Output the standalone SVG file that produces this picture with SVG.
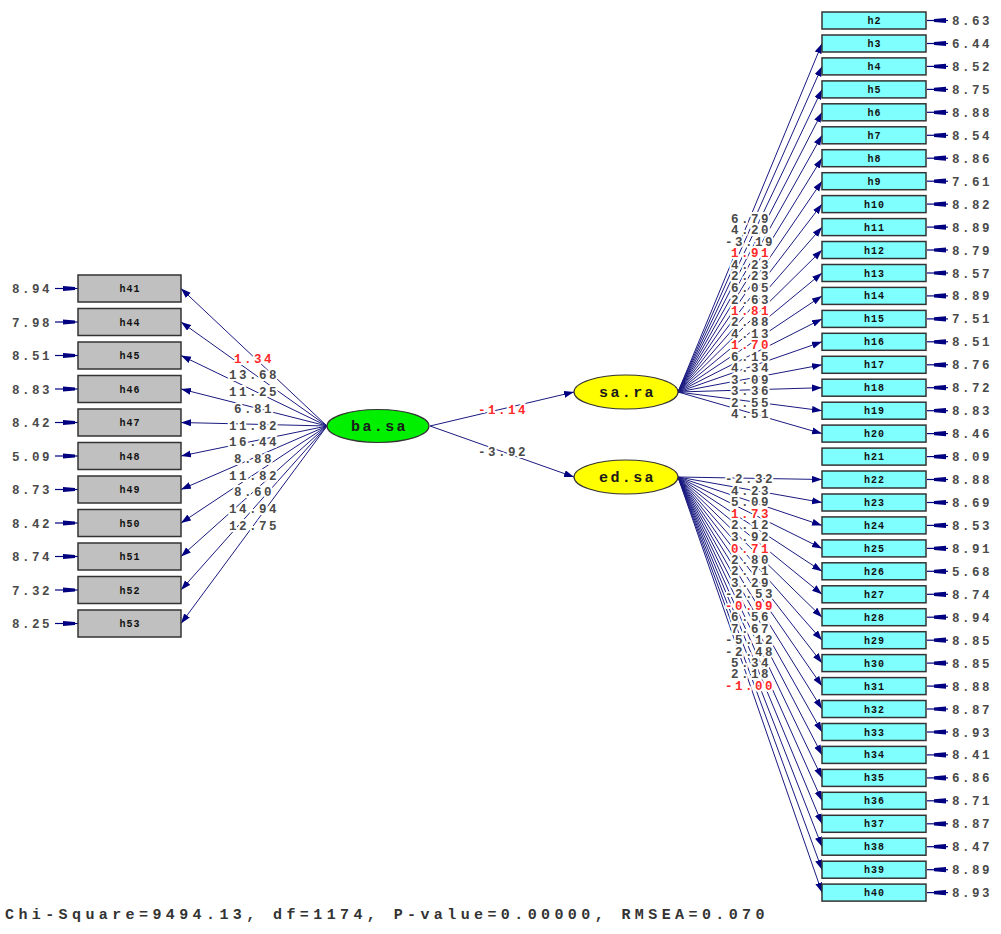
<svg xmlns="http://www.w3.org/2000/svg" xmlns:xlink="http://www.w3.org/1999/xlink" width="1001" height="934" viewBox="0 0 1001 934">
<defs>
<marker id="ah" markerUnits="userSpaceOnUse" markerWidth="11" markerHeight="8" refX="10" refY="3.5" orient="auto">
<path d="M0,0 L10,3.5 L0,7 Z" fill="#000080"/>
</marker>
<g id="errR"><line x1="927" y1="0" x2="948" y2="0" stroke="#000080" stroke-width="1.2"/><path d="M934,-1.6 L946,-2.6 L946,2.6 L934,1.6 Z" fill="#000080"/></g>
<g id="errL"><line x1="55" y1="0" x2="78" y2="0" stroke="#000080" stroke-width="1.2"/><path d="M63,-2.6 L75,-1.6 L75,1.6 L63,2.6 Z" fill="#000080"/></g>
</defs>
<style>
.c line{stroke:#1a1a80;stroke-width:1;fill:none}
.c .a{marker-end:url(#ah)}
.bR{fill:#80ffff;stroke:#333;stroke-width:1.5}
.bL{fill:#c0c0c0;stroke:#333;stroke-width:1.5}
.bt{font-family:"Liberation Mono",monospace;font-size:10px;font-weight:bold;letter-spacing:1px;text-anchor:middle;fill:#111}
.n{font-family:"Liberation Mono",monospace;font-size:12.5px;font-weight:bold;letter-spacing:2.5px;fill:#4a4a4a}
.m{text-anchor:middle;paint-order:stroke;stroke:#fff;stroke-width:4px;stroke-linejoin:round}
.r{fill:#ff2a2a}
.lv{font-family:"Liberation Mono",monospace;font-size:15px;font-weight:bold;letter-spacing:2.4px;text-anchor:middle;fill:#1a1a1a}
.ft{font-family:"Liberation Mono",monospace;font-size:15px;font-weight:bold;letter-spacing:4.4px;fill:#333}
</style>
<rect width="1001" height="934" fill="#fff"/>

<g id="connectors" class="c">
<line class="a" x1="430" y1="426" x2="574" y2="392"/>
<line class="a" x1="430" y1="426" x2="574" y2="477"/>
<line class="a" x1="327" y1="426" x2="181" y2="288.5"/>
<line class="a" x1="327" y1="426" x2="181" y2="322"/>
<line class="a" x1="327" y1="426" x2="181" y2="355.5"/>
<line class="a" x1="327" y1="426" x2="181" y2="389"/>
<line class="a" x1="327" y1="426" x2="181" y2="422.5"/>
<line class="a" x1="327" y1="426" x2="181" y2="456"/>
<line class="a" x1="327" y1="426" x2="181" y2="489.5"/>
<line class="a" x1="327" y1="426" x2="181" y2="523"/>
<line class="a" x1="327" y1="426" x2="181" y2="556.5"/>
<line class="a" x1="327" y1="426" x2="181" y2="590"/>
<line class="a" x1="327" y1="426" x2="181" y2="623.5"/>
<line class="a" x1="678" y1="392" x2="822" y2="43.5"/>
<line class="a" x1="678" y1="392" x2="822" y2="66.4"/>
<line class="a" x1="678" y1="392" x2="822" y2="89.4"/>
<line class="a" x1="678" y1="392" x2="822" y2="112.3"/>
<line class="a" x1="678" y1="392" x2="822" y2="135.3"/>
<line class="a" x1="678" y1="392" x2="822" y2="158.2"/>
<line class="a" x1="678" y1="392" x2="822" y2="181.2"/>
<line class="a" x1="678" y1="392" x2="822" y2="204.1"/>
<line class="a" x1="678" y1="392" x2="822" y2="227.1"/>
<line class="a" x1="678" y1="392" x2="822" y2="250"/>
<line class="a" x1="678" y1="392" x2="822" y2="273"/>
<line class="a" x1="678" y1="392" x2="822" y2="295.9"/>
<line class="a" x1="678" y1="392" x2="822" y2="318.9"/>
<line class="a" x1="678" y1="392" x2="822" y2="341.8"/>
<line class="a" x1="678" y1="392" x2="822" y2="364.8"/>
<line class="a" x1="678" y1="392" x2="822" y2="387.7"/>
<line class="a" x1="678" y1="392" x2="822" y2="410.7"/>
<line class="a" x1="678" y1="392" x2="822" y2="433.6"/>
<line class="a" x1="678" y1="477" x2="822" y2="479.5"/>
<line class="a" x1="678" y1="477" x2="822" y2="502.5"/>
<line class="a" x1="678" y1="477" x2="822" y2="525.4"/>
<line class="a" x1="678" y1="477" x2="822" y2="548.4"/>
<line class="a" x1="678" y1="477" x2="822" y2="571.3"/>
<line class="a" x1="678" y1="477" x2="822" y2="594.3"/>
<line class="a" x1="678" y1="477" x2="822" y2="617.2"/>
<line class="a" x1="678" y1="477" x2="822" y2="640.2"/>
<line class="a" x1="678" y1="477" x2="822" y2="663.1"/>
<line class="a" x1="678" y1="477" x2="822" y2="686.1"/>
<line class="a" x1="678" y1="477" x2="822" y2="709"/>
<line class="a" x1="678" y1="477" x2="822" y2="732"/>
<line class="a" x1="678" y1="477" x2="822" y2="754.9"/>
<line class="a" x1="678" y1="477" x2="822" y2="777.9"/>
<line class="a" x1="678" y1="477" x2="822" y2="800.8"/>
<line class="a" x1="678" y1="477" x2="822" y2="823.8"/>
<line class="a" x1="678" y1="477" x2="822" y2="846.7"/>
<line class="a" x1="678" y1="477" x2="822" y2="869.7"/>
<line class="a" x1="678" y1="477" x2="822" y2="892.6"/>
</g>

<g id="error-arrows">
<use xlink:href="#errL" y="288.5"/><use xlink:href="#errL" y="322"/><use xlink:href="#errL" y="355.5"/><use xlink:href="#errL" y="389"/><use xlink:href="#errL" y="422.5"/><use xlink:href="#errL" y="456"/><use xlink:href="#errL" y="489.5"/><use xlink:href="#errL" y="523"/><use xlink:href="#errL" y="556.5"/><use xlink:href="#errL" y="590"/><use xlink:href="#errL" y="623.5"/>
<use xlink:href="#errR" y="20.5"/><use xlink:href="#errR" y="43.5"/><use xlink:href="#errR" y="66.4"/><use xlink:href="#errR" y="89.4"/><use xlink:href="#errR" y="112.3"/><use xlink:href="#errR" y="135.3"/><use xlink:href="#errR" y="158.2"/><use xlink:href="#errR" y="181.2"/><use xlink:href="#errR" y="204.1"/><use xlink:href="#errR" y="227.1"/><use xlink:href="#errR" y="250"/><use xlink:href="#errR" y="273"/><use xlink:href="#errR" y="295.9"/><use xlink:href="#errR" y="318.9"/><use xlink:href="#errR" y="341.8"/><use xlink:href="#errR" y="364.8"/><use xlink:href="#errR" y="387.7"/><use xlink:href="#errR" y="410.7"/><use xlink:href="#errR" y="433.6"/><use xlink:href="#errR" y="456.6"/><use xlink:href="#errR" y="479.5"/><use xlink:href="#errR" y="502.5"/><use xlink:href="#errR" y="525.4"/><use xlink:href="#errR" y="548.4"/><use xlink:href="#errR" y="571.3"/><use xlink:href="#errR" y="594.3"/><use xlink:href="#errR" y="617.2"/><use xlink:href="#errR" y="640.2"/><use xlink:href="#errR" y="663.1"/><use xlink:href="#errR" y="686.1"/><use xlink:href="#errR" y="709"/><use xlink:href="#errR" y="732"/><use xlink:href="#errR" y="754.9"/><use xlink:href="#errR" y="777.9"/><use xlink:href="#errR" y="800.8"/><use xlink:href="#errR" y="823.8"/><use xlink:href="#errR" y="846.7"/><use xlink:href="#errR" y="869.7"/><use xlink:href="#errR" y="892.6"/>
</g>

<g id="loading-labels" class="n">
<text class="m r" x="503" y="414">-1.14</text>
<text class="m" x="503" y="456">-3.92</text>
<text class="m r" x="254" y="362.5">1.34</text>
<text class="m" x="254" y="378.5">13.68</text>
<text class="m" x="254" y="395.5">11.25</text>
<text class="m" x="254" y="412.5">6.81</text>
<text class="m" x="254" y="429.5">11.82</text>
<text class="m" x="254" y="445.5">16.44</text>
<text class="m" x="254" y="462.5">8.88</text>
<text class="m" x="254" y="479.5">11.82</text>
<text class="m" x="254" y="495.5">8.60</text>
<text class="m" x="254" y="512.5">14.94</text>
<text class="m" x="254" y="529.5">12.75</text>
<text class="m" x="751" y="222.5">6.79</text>
<text class="m" x="751" y="234">4.20</text>
<text class="m" x="750" y="245.5">-3.19</text>
<text class="m r" x="751" y="257">1.91</text>
<text class="m" x="751" y="268.5">4.23</text>
<text class="m" x="751" y="280">2.23</text>
<text class="m" x="751" y="292">6.05</text>
<text class="m" x="751" y="303.5">2.63</text>
<text class="m r" x="751" y="314.5">1.81</text>
<text class="m" x="751" y="326">2.88</text>
<text class="m" x="751" y="337.5">4.13</text>
<text class="m r" x="751" y="349">1.70</text>
<text class="m" x="751" y="360.5">6.15</text>
<text class="m" x="751" y="372">4.34</text>
<text class="m" x="751" y="383.5">3.09</text>
<text class="m" x="751" y="395">3.36</text>
<text class="m" x="751" y="406.5">2.55</text>
<text class="m" x="751" y="417.5">4.51</text>
<text class="m" x="750" y="482.5">-2.32</text>
<text class="m" x="751" y="494.5">4.23</text>
<text class="m" x="751" y="505.5">5.09</text>
<text class="m r" x="751" y="517.5">1.73</text>
<text class="m" x="751" y="528.5">2.12</text>
<text class="m" x="751" y="540.5">3.92</text>
<text class="m r" x="751" y="552.5">0.71</text>
<text class="m" x="751" y="563.5">2.80</text>
<text class="m" x="751" y="574.5">2.71</text>
<text class="m" x="751" y="586.5">3.29</text>
<text class="m" x="750" y="597.5">-2.53</text>
<text class="m r" x="750" y="609.5">-0.99</text>
<text class="m" x="751" y="620.5">6.56</text>
<text class="m" x="751" y="632.5">7.67</text>
<text class="m" x="750" y="643.5">-5.12</text>
<text class="m" x="750" y="655.5">-2.48</text>
<text class="m" x="751" y="666.5">5.34</text>
<text class="m" x="751" y="677.5">2.18</text>
<text class="m r" x="750" y="689.5">-1.00</text>
</g>

<g id="error-values" class="n">
<text x="12" y="293">8.94</text><text x="12" y="326.5">7.98</text><text x="12" y="360">8.51</text><text x="12" y="393.5">8.83</text><text x="12" y="427">8.42</text><text x="12" y="460.5">5.09</text><text x="12" y="494">8.73</text><text x="12" y="527.5">8.42</text><text x="12" y="561">8.74</text><text x="12" y="594.5">7.32</text><text x="12" y="628">8.25</text>
<text x="952" y="25">8.63</text><text x="952" y="48">6.44</text><text x="952" y="70.9">8.52</text><text x="952" y="93.9">8.75</text><text x="952" y="116.8">8.88</text><text x="952" y="139.8">8.54</text><text x="952" y="162.7">8.86</text><text x="952" y="185.7">7.61</text><text x="952" y="208.6">8.82</text><text x="952" y="231.6">8.89</text><text x="952" y="254.5">8.79</text><text x="952" y="277.5">8.57</text><text x="952" y="300.4">8.89</text><text x="952" y="323.4">7.51</text><text x="952" y="346.3">8.51</text><text x="952" y="369.3">8.76</text><text x="952" y="392.2">8.72</text><text x="952" y="415.2">8.83</text><text x="952" y="438.1">8.46</text><text x="952" y="461.1">8.09</text><text x="952" y="484">8.88</text><text x="952" y="507">8.69</text><text x="952" y="529.9">8.53</text><text x="952" y="552.9">8.91</text><text x="952" y="575.8">5.68</text><text x="952" y="598.8">8.74</text><text x="952" y="621.7">8.94</text><text x="952" y="644.7">8.85</text><text x="952" y="667.6">8.85</text><text x="952" y="690.6">8.88</text><text x="952" y="713.5">8.87</text><text x="952" y="736.5">8.93</text><text x="952" y="759.4">8.41</text><text x="952" y="782.4">6.86</text><text x="952" y="805.3">8.71</text><text x="952" y="828.3">8.87</text><text x="952" y="851.2">8.47</text><text x="952" y="874.2">8.89</text><text x="952" y="897.1">8.93</text>
</g>

<g id="ba.sa"><ellipse cx="378" cy="426" rx="51" ry="16.5" fill="#00f000" stroke="#333" stroke-width="1.2"/><text class="lv" x="379.5" y="431">ba.sa</text></g>
<g id="sa.ra"><ellipse cx="626" cy="392" rx="52" ry="17" fill="#ffff00" stroke="#333" stroke-width="1.2"/><text class="lv" x="627.5" y="397">sa.ra</text></g>
<g id="ed.sa"><ellipse cx="626" cy="477" rx="52" ry="17" fill="#ffff00" stroke="#333" stroke-width="1.2"/><text class="lv" x="627.5" y="482">ed.sa</text></g>

<g id="h41"><rect class="bL" x="78" y="275" width="103" height="27"/><text class="bt" x="130" y="292">h41</text></g>
<g id="h44"><rect class="bL" x="78" y="308.5" width="103" height="27"/><text class="bt" x="130" y="325.5">h44</text></g>
<g id="h45"><rect class="bL" x="78" y="342" width="103" height="27"/><text class="bt" x="130" y="359">h45</text></g>
<g id="h46"><rect class="bL" x="78" y="375.5" width="103" height="27"/><text class="bt" x="130" y="392.5">h46</text></g>
<g id="h47"><rect class="bL" x="78" y="409" width="103" height="27"/><text class="bt" x="130" y="426">h47</text></g>
<g id="h48"><rect class="bL" x="78" y="442.5" width="103" height="27"/><text class="bt" x="130" y="459.5">h48</text></g>
<g id="h49"><rect class="bL" x="78" y="476" width="103" height="27"/><text class="bt" x="130" y="493">h49</text></g>
<g id="h50"><rect class="bL" x="78" y="509.5" width="103" height="27"/><text class="bt" x="130" y="526.5">h50</text></g>
<g id="h51"><rect class="bL" x="78" y="543" width="103" height="27"/><text class="bt" x="130" y="560">h51</text></g>
<g id="h52"><rect class="bL" x="78" y="576.5" width="103" height="27"/><text class="bt" x="130" y="593.5">h52</text></g>
<g id="h53"><rect class="bL" x="78" y="610" width="103" height="27"/><text class="bt" x="130" y="627">h53</text></g>

<g id="h2"><rect class="bR" x="822" y="12" width="104" height="17"/><text class="bt" x="874.5" y="24">h2</text></g>
<g id="h3"><rect class="bR" x="822" y="35" width="104" height="17"/><text class="bt" x="874.5" y="47">h3</text></g>
<g id="h4"><rect class="bR" x="822" y="57.9" width="104" height="17"/><text class="bt" x="874.5" y="69.9">h4</text></g>
<g id="h5"><rect class="bR" x="822" y="80.9" width="104" height="17"/><text class="bt" x="874.5" y="92.9">h5</text></g>
<g id="h6"><rect class="bR" x="822" y="103.8" width="104" height="17"/><text class="bt" x="874.5" y="115.8">h6</text></g>
<g id="h7"><rect class="bR" x="822" y="126.8" width="104" height="17"/><text class="bt" x="874.5" y="138.8">h7</text></g>
<g id="h8"><rect class="bR" x="822" y="149.7" width="104" height="17"/><text class="bt" x="874.5" y="161.7">h8</text></g>
<g id="h9"><rect class="bR" x="822" y="172.7" width="104" height="17"/><text class="bt" x="874.5" y="184.7">h9</text></g>
<g id="h10"><rect class="bR" x="822" y="195.6" width="104" height="17"/><text class="bt" x="874.5" y="207.6">h10</text></g>
<g id="h11"><rect class="bR" x="822" y="218.6" width="104" height="17"/><text class="bt" x="874.5" y="230.6">h11</text></g>
<g id="h12"><rect class="bR" x="822" y="241.5" width="104" height="17"/><text class="bt" x="874.5" y="253.5">h12</text></g>
<g id="h13"><rect class="bR" x="822" y="264.5" width="104" height="17"/><text class="bt" x="874.5" y="276.5">h13</text></g>
<g id="h14"><rect class="bR" x="822" y="287.4" width="104" height="17"/><text class="bt" x="874.5" y="299.4">h14</text></g>
<g id="h15"><rect class="bR" x="822" y="310.4" width="104" height="17"/><text class="bt" x="874.5" y="322.4">h15</text></g>
<g id="h16"><rect class="bR" x="822" y="333.3" width="104" height="17"/><text class="bt" x="874.5" y="345.3">h16</text></g>
<g id="h17"><rect class="bR" x="822" y="356.3" width="104" height="17"/><text class="bt" x="874.5" y="368.3">h17</text></g>
<g id="h18"><rect class="bR" x="822" y="379.2" width="104" height="17"/><text class="bt" x="874.5" y="391.2">h18</text></g>
<g id="h19"><rect class="bR" x="822" y="402.2" width="104" height="17"/><text class="bt" x="874.5" y="414.2">h19</text></g>
<g id="h20"><rect class="bR" x="822" y="425.1" width="104" height="17"/><text class="bt" x="874.5" y="437.1">h20</text></g>
<g id="h21"><rect class="bR" x="822" y="448.1" width="104" height="17"/><text class="bt" x="874.5" y="460.1">h21</text></g>
<g id="h22"><rect class="bR" x="822" y="471" width="104" height="17"/><text class="bt" x="874.5" y="483">h22</text></g>
<g id="h23"><rect class="bR" x="822" y="494" width="104" height="17"/><text class="bt" x="874.5" y="506">h23</text></g>
<g id="h24"><rect class="bR" x="822" y="516.9" width="104" height="17"/><text class="bt" x="874.5" y="528.9">h24</text></g>
<g id="h25"><rect class="bR" x="822" y="539.9" width="104" height="17"/><text class="bt" x="874.5" y="551.9">h25</text></g>
<g id="h26"><rect class="bR" x="822" y="562.8" width="104" height="17"/><text class="bt" x="874.5" y="574.8">h26</text></g>
<g id="h27"><rect class="bR" x="822" y="585.8" width="104" height="17"/><text class="bt" x="874.5" y="597.8">h27</text></g>
<g id="h28"><rect class="bR" x="822" y="608.7" width="104" height="17"/><text class="bt" x="874.5" y="620.7">h28</text></g>
<g id="h29"><rect class="bR" x="822" y="631.7" width="104" height="17"/><text class="bt" x="874.5" y="643.7">h29</text></g>
<g id="h30"><rect class="bR" x="822" y="654.6" width="104" height="17"/><text class="bt" x="874.5" y="666.6">h30</text></g>
<g id="h31"><rect class="bR" x="822" y="677.6" width="104" height="17"/><text class="bt" x="874.5" y="689.6">h31</text></g>
<g id="h32"><rect class="bR" x="822" y="700.5" width="104" height="17"/><text class="bt" x="874.5" y="712.5">h32</text></g>
<g id="h33"><rect class="bR" x="822" y="723.5" width="104" height="17"/><text class="bt" x="874.5" y="735.5">h33</text></g>
<g id="h34"><rect class="bR" x="822" y="746.4" width="104" height="17"/><text class="bt" x="874.5" y="758.4">h34</text></g>
<g id="h35"><rect class="bR" x="822" y="769.4" width="104" height="17"/><text class="bt" x="874.5" y="781.4">h35</text></g>
<g id="h36"><rect class="bR" x="822" y="792.3" width="104" height="17"/><text class="bt" x="874.5" y="804.3">h36</text></g>
<g id="h37"><rect class="bR" x="822" y="815.3" width="104" height="17"/><text class="bt" x="874.5" y="827.3">h37</text></g>
<g id="h38"><rect class="bR" x="822" y="838.2" width="104" height="17"/><text class="bt" x="874.5" y="850.2">h38</text></g>
<g id="h39"><rect class="bR" x="822" y="861.2" width="104" height="17"/><text class="bt" x="874.5" y="873.2">h39</text></g>
<g id="h40"><rect class="bR" x="822" y="884.1" width="104" height="17"/><text class="bt" x="874.5" y="896.1">h40</text></g>

<text class="ft" x="5" y="919">Chi-Square=9494.13, df=1174, P-value=0.00000, RMSEA=0.070</text>
</svg>
